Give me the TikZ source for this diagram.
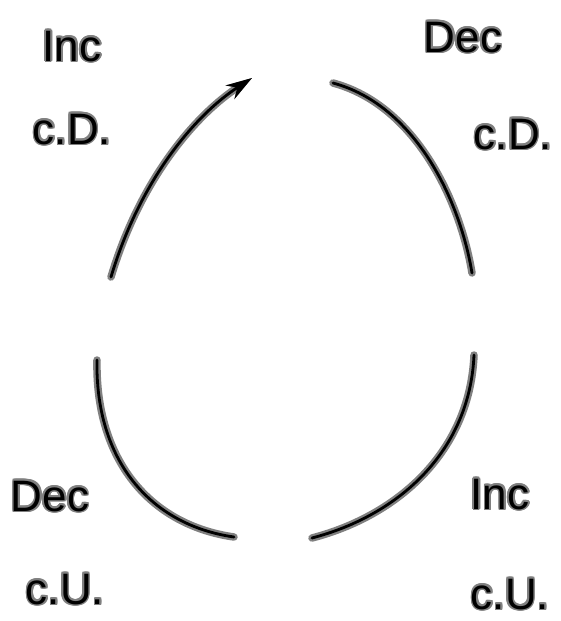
\documentclass[tikz,border=0pt]{standalone}
\usepackage{fontspec}
\setmainfont{Liberation Sans}
\usepackage{contour}
\contourlength{1.8pt}
\usetikzlibrary{arrows.meta}
\begin{document}
\begin{tikzpicture}[x=1pt, y=-1pt]

    % Style for pen strokes and hand-written labels
    \tikzset{pen/.style={line width=2.8pt, line cap=round, black,
        preaction={draw=gray, line width=7.5pt, line cap=round}}}
    \tikzset{lbl/.style={inner sep=0pt, align=center,
        font=\fontsize{44}{44}\selectfont}}

    \useasboundingbox (0,0) rectangle (561,621);

    % --- Labels, one pair per quarter ---
    \node[lbl] (incdown)  at (72, 47)  {\contour{gray}{Inc}};
    \node[lbl] (cdleft)   at (72, 130) {\contour{gray}{c.D.}};
    \node[lbl] (decdown)  at (463, 38) {\contour{gray}{Dec}};
    \node[lbl] (cdright)  at (513, 135) {\contour{gray}{c.D.}};
    \node[lbl] (decup)    at (50, 497) {\contour{gray}{Dec}};
    \node[lbl] (culeft)   at (65, 590) {\contour{gray}{c.U.}};
    \node[lbl] (incup)    at (500, 495) {\contour{gray}{Inc}};
    \node[lbl] (curight)  at (510, 595) {\contour{gray}{c.U.}};

    % --- End points of the four arcs ---
    \coordinate (tlstart) at (111, 277);
    \coordinate (tlend)   at (252, 78);
    \coordinate (trstart) at (333, 83);
    \coordinate (trend)   at (472, 273);
    \coordinate (blstart) at (97, 360);
    \coordinate (blend)   at (234, 537);
    \coordinate (brstart) at (312, 538);
    \coordinate (brend)   at (474, 355);

    % Top left: rising, bending down
    \draw[pen, -{Stealth[length=26pt, width=16pt]}]
        (tlstart) .. controls (140, 180) and (195, 115) .. (tlend);
    % Top right: falling, bending down
    \draw[pen] (trstart) .. controls (415, 105) and (460, 200) .. (trend);
    % Bottom left: falling, bending up
    \draw[pen] (blstart) .. controls (95, 460) and (150, 525) .. (blend);
    % Bottom right: rising, bending up
    \draw[pen] (brstart) .. controls (400, 515) and (470, 450) .. (brend);
\end{tikzpicture}
\end{document}
